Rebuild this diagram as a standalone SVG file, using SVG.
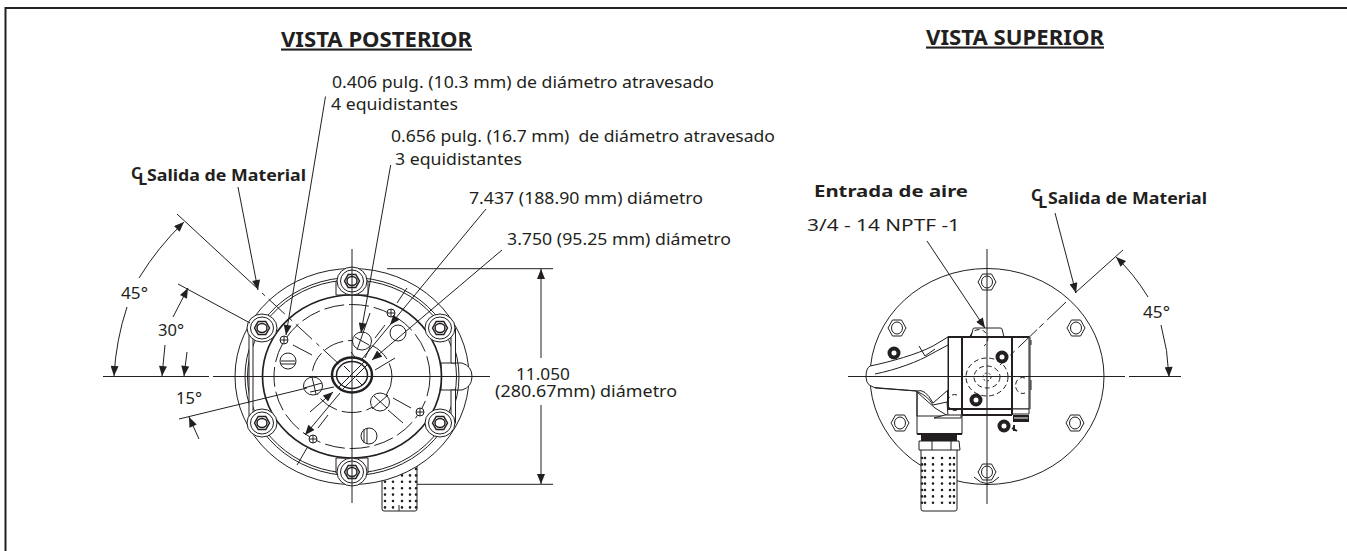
<svg xmlns="http://www.w3.org/2000/svg" width="1347" height="551" viewBox="0 0 1347 551">
<style>
text{font-family:"Noto Sans","Open Sans","Liberation Sans",sans-serif;font-size:16px;fill:#231f20}
.b{font-weight:700;font-size:16.500px}
.t{font-weight:700;font-size:21px;text-decoration:underline}
.cl{font-weight:700;font-size:16px}
.l{fill:none;stroke:#231f20;stroke-width:1}
.w{fill:#fff;stroke:#231f20;stroke-width:1}
.k{fill:none;stroke:#231f20;stroke-width:2}
.wk{fill:#fff;stroke:#231f20;stroke-width:2}
.d{fill:none;stroke:#231f20;stroke-width:1;stroke-dasharray:20 5}
.ds{fill:none;stroke:#231f20;stroke-width:1;stroke-dasharray:5 3}
.a{marker-end:url(#ah)}
.dots{fill:none;stroke:#231f20;stroke-width:2.600;stroke-linecap:round;stroke-dasharray:0 6.400}
.f{fill:#231f20;stroke:none}
</style>
<defs>
<marker id="ah" viewBox="0 0 10 8" refX="10" refY="4" markerUnits="userSpaceOnUse" markerWidth="11" markerHeight="8" orient="auto"><path d="M0 0L10 4L0 8Z" fill="#231f20"/></marker>
<g id="hexbolt"><path class="w" d="M-9 0L-4.500-8H4.500L9 0L4.500 8H-4.500Z"/><ellipse class="l" rx="5.500" ry="6"/></g>
<g id="pad"><ellipse class="w" rx="15" ry="14"/><ellipse class="w" rx="11.500" ry="11"/><path class="w" style="stroke-width:1.500" d="M-7.500 0L-3.750-6.500H3.750L7.500 0L3.750 6.500H-3.750Z"/><ellipse class="l" style="stroke-width:1.500" rx="5" ry="4.500"/></g>
<g id="hole"><ellipse class="w" rx="9.500" ry="9"/></g>
<g id="sm"><circle class="w" r="4"/><path class="l" d="M-4 0H4M0-4V4"/></g>
<g id="fit"><circle r="6.500" fill="#231f20"/><circle r="2.500" fill="#fff"/></g>
</defs>
<g id="frame"><path d="M1347 8H5.500V551" fill="none" stroke="#231f20" stroke-width="2"/></g>

<g id="vista-posterior">
<g id="filtro-posterior"><path class="w" d="M382 465V509Q382 511 384 511H415Q417 511 417 509V465"/><path class="dots" d="M385 469V509M393 469V509M402 469V509M410 469V509M416 469V509"/><path class="l" d="M399 505V511"/></g>
<ellipse id="carcasa" class="w" cx="352" cy="376.500" rx="117" ry="108"/>
<path id="boss" class="w" d="M441 363H462Q472 366 472 376.500Q472 387 462 390H441Z"/>
<ellipse class="l" cx="352" cy="376.500" rx="107" ry="99"/>
<ellipse class="l" cx="352" cy="376.500" rx="104.500" ry="96.500"/>
<path class="w" d="M249 328H253V423H249ZM451 328H455.500V363H451ZM451 390H455.500V423H451Z"/>
<path class="w" d="M336 281H368V295H336ZM336 458H368V473H336Z"/>
<ellipse class="wk" cx="352" cy="376.500" rx="89.500" ry="81.500" style="stroke-width:1.700"/>
<ellipse class="d" cx="352" cy="376.500" rx="78" ry="72"/>
<ellipse class="d" cx="352" cy="376.500" rx="40" ry="36"/>
<use href="#pad" x="352" y="281"/><use href="#pad" x="262" y="328"/><use href="#pad" x="440" y="328"/><use href="#pad" x="262" y="423"/><use href="#pad" x="440" y="423"/><use href="#pad" x="352" y="472"/>
<use href="#sm" x="284" y="340"/><use href="#sm" x="391" y="313"/><use href="#sm" x="420" y="412"/><use href="#sm" x="313" y="439"/>
<use href="#hole" x="362" y="341"/><use href="#hole" x="313" y="386"/><use href="#hole" x="380" y="402"/>
<path class="l" d="M370 313L357 350M355 337L369 345M304 388L322 383M312 377L316 394M374 396L387 408M372 409L388 395"/>
<path class="l" d="M293 345L312 355M407 288L397 303M385 325L375 338M307 448L297 465M328 415L318 428M393 398L411 408M388 410L403 423M334 387L310 392M395 358L375 370M371 345L365 358M351 352L358 361"/>
<g><circle class="w" cx="398" cy="333" r="8"/><circle class="w" cx="288" cy="361" r="8"/><circle class="w" cx="369" cy="436" r="8"/><path class="l" d="M281 361H295M281 364H295M364 429V443M367 428V444"/></g>
<ellipse class="wk" cx="352" cy="375" rx="20" ry="17.500" style="stroke-width:2.500"/>
<ellipse class="w" cx="352" cy="375" rx="15.500" ry="13.500" style="stroke-width:1.500"/>
<path class="l" d="M338 388L364 362M341 391L367 365M344 366L350 372M356 379L362 385"/>
</g>

<g id="vista-superior">
<ellipse id="disco" class="w" cx="987" cy="376.500" rx="117" ry="108"/>
<path class="l" d="M974 477Q987 490 999 477"/>
<use href="#hexbolt" x="987" y="282"/><use href="#hexbolt" x="897" y="328"/><use href="#hexbolt" x="1076" y="328"/><use href="#hexbolt" x="1075" y="423"/><use href="#hexbolt" x="900" y="423"/><use href="#hexbolt" x="987" y="472"/>
<use href="#fit" x="894" y="353"/>
<path id="cuello" class="w" d="M971 337L973 329Q973 328 975 328H1000Q1002 328 1002 329L1004 337Z"/>
<rect id="cuerpo" class="w" x="948" y="337" width="81" height="72"/>
<path class="w" d="M1012 409H1029V414H1012Z"/>
<path class="k" d="M948 337H1029M948 337V410M962 337V415M1012 337V415M948 409H1012M962 415H1012"/>
<path class="l" d="M1030 337V409M1031 340V345M1031 380V390"/>
<path class="f" d="M1013 415H1029V422H1013Z"/>
<path class="l" d="M1014 418H1028" style="stroke:#fff"/>
<ellipse class="ds" cx="987" cy="377" rx="21" ry="19"/><ellipse class="ds" cx="987" cy="377" rx="13" ry="11"/><circle class="ds" cx="987" cy="377" r="4" style="stroke-dasharray:2 2"/>
<path class="ds" d="M970 337A9 9 0 1 1 984 346M1025 378A7 8 0 1 0 1025 393M957 395A7 8 0 1 0 957 410"/>
<use href="#fit" x="1002" y="357"/><use href="#fit" x="976" y="400"/>
<use href="#fit" x="1004" y="426"/><path class="k" d="M1012 428L1017 431M1014 425V431"/>
<path id="mango" class="w" d="M870 366C890 362 918 354 933 346L948 337V390L933 403Q925 388 917 391L880 388Q866 388 866 377Q866 368 870 366Z"/>
<path class="l" d="M875 374C895 370 918 362 933 353L948 345M919 346L925 356L935 349M875 388L917 391"/>
<path class="w" d="M917 391V434H962V416H917Z"/>
<path class="k" d="M917 434H962"/>
<path class="w" d="M918 392Q928 396 933 405L947 402L948 416L935 408L917 392Z"/>
<path class="w" d="M934 418L945 415H961V418Z"/>
<path class="f" d="M921 435H957V441H921Z"/>
<g id="filtro-superior"><path class="w" d="M921 448V509Q921 511 923 511H955Q957 511 957 509V448"/><path class="dots" d="M922 458V507M925 458V507M933 458V507M942 458V507M950 458V507M954 458V507"/></g>
<path class="w" d="M919 441H959L960 450H919Z"/><path class="l" d="M932 441V450M951 441V450"/>
</g>

<g id="connectors">
<path class="l" d="M103 376.500H209M213 376.500H490"/>
<path class="l" d="M352 249V503"/>
<path class="l" d="M177 214L258 289M178 284L250 323M179 419L307 388"/>
<path class="l" d="M262 293L340 365" style="stroke-dasharray:4 5 22 6"/>
<path class="l" d="M387 268.700H553M417 484.300H553"/>
<path class="l a" d="M541 358V269"/><path class="l a" d="M541 405V484"/>
<path class="l a" d="M238 187L258 290"/>
<path class="l a" d="M325.500 96.500L286 335"/>
<path class="l a" d="M390.700 165L361 333"/>
<path class="l a" d="M486 209L390 325"/><path class="l" d="M390 325L362 359"/>
<path class="l a" d="M340 393L305 435"/>
<path class="l a" d="M502 250L372 360"/>
<path class="l a" d="M310 412L333 392"/>
<path class="l a" d="M139 278Q158 247 184 222"/>
<path class="l a" d="M127 307Q116 340 114 376"/>
<path class="l a" d="M173 317L188 288"/><path class="l a" d="M165 345L162 376"/>
<path class="l a" d="M187 352L184 376"/><path class="l a" d="M199 439L189 417"/>
<path class="l" d="M848 376.500H1125M1129 376.500H1181"/>
<path class="l" d="M987 249V504"/>
<path class="l" d="M1075 293L1123 250"/>
<path class="l" d="M1066 302L1000 365" style="stroke-dasharray:26 5 6 3"/>
<path class="l a" d="M927 241L985 328"/>
<path class="l a" d="M1055 213L1076 293"/>
<path class="l a" d="M1148 297Q1134 274 1116 257"/>
<path class="l a" d="M1161 325Q1168 350 1169 377"/>
</g>

<g id="labels">
<text class="t" x="281" y="46.500" textLength="191" lengthAdjust="spacingAndGlyphs">VISTA POSTERIOR</text>
<text class="t" x="926" y="44.500" textLength="178" lengthAdjust="spacingAndGlyphs">VISTA SUPERIOR</text>
<text x="332" y="88" textLength="382" lengthAdjust="spacingAndGlyphs">0.406 pulg. (10.3 mm) de diámetro atravesado</text>
<text x="331" y="110" textLength="127" lengthAdjust="spacingAndGlyphs">4 equidistantes</text>
<text x="391" y="142" textLength="384" lengthAdjust="spacingAndGlyphs" style="white-space:pre">0.656 pulg. (16.7 mm)  de diámetro atravesado</text>
<text x="395" y="165" textLength="127" lengthAdjust="spacingAndGlyphs">3 equidistantes</text>
<text class="cl" x="131" y="179">C<tspan dx="-3" dy="6">L</tspan></text>
<text class="b" x="147" y="181" textLength="159" lengthAdjust="spacingAndGlyphs">Salida de Material</text>
<text x="469" y="204" textLength="234" lengthAdjust="spacingAndGlyphs">7.437 (188.90 mm) diámetro</text>
<text x="507" y="245" textLength="224" lengthAdjust="spacingAndGlyphs">3.750 (95.25 mm) diámetro</text>
<text x="516" y="380" textLength="54" lengthAdjust="spacingAndGlyphs">11.050</text>
<text x="495" y="397" textLength="182" lengthAdjust="spacingAndGlyphs">(280.67mm) diámetro</text>
<text x="121" y="299" textLength="27" lengthAdjust="spacingAndGlyphs">45°</text>
<text x="158" y="336" textLength="26" lengthAdjust="spacingAndGlyphs">30°</text>
<text x="176" y="404" textLength="26" lengthAdjust="spacingAndGlyphs">15°</text>
<text class="b" x="814" y="197" textLength="154" lengthAdjust="spacingAndGlyphs">Entrada de aire</text>
<text x="807" y="231" textLength="153" lengthAdjust="spacingAndGlyphs">3/4 - 14 NPTF -1</text>
<text class="cl" x="1031" y="201">C<tspan dx="-3" dy="7">L</tspan></text>
<text class="b" x="1048" y="204" textLength="159" lengthAdjust="spacingAndGlyphs">Salida de Material</text>
<text x="1143" y="318" textLength="27" lengthAdjust="spacingAndGlyphs">45°</text>
</g>
</svg>
